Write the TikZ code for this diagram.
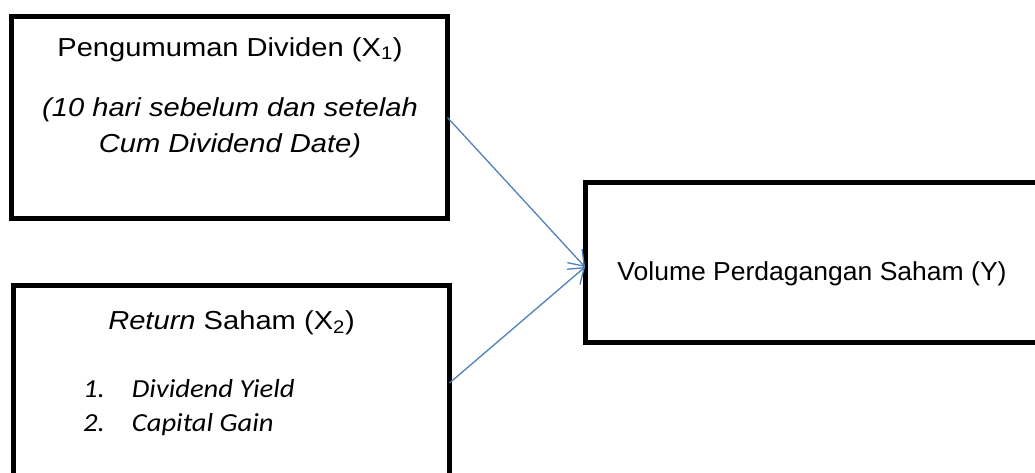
\documentclass[tikz,border=0pt]{standalone}
\usepackage{fontspec}
\setmainfont{Liberation Sans}[FakeStretch=1.12]
\newfontfamily\yfont{Liberation Sans}[FakeStretch=1.02]
\newfontfamily\calfont{Carlito}[FakeStretch=1.10]
\usetikzlibrary{arrows.meta}
\definecolor{arrowblue}{HTML}{4F81BD}
\begin{document}
\begin{tikzpicture}[x=1pt,y=-1pt,
  box/.style={draw=black, line width=5pt, rectangle, inner sep=0pt, outer sep=0pt},
  bigtext/.style={font=\fontsize{26}{31}\selectfont, inner sep=0pt, anchor=base},
  ytext/.style={font=\yfont\fontsize{26}{31}\selectfont, inner sep=0pt, anchor=base},
  itemtext/.style={font=\calfont\itshape\fontsize{26}{31}\selectfont, inner sep=0pt, anchor=base west},
  conn/.style={draw=arrowblue, line width=1.3pt, -{Straight Barb[length=14pt,width=20pt,line width=1.3pt]}}
]
\useasboundingbox (0,0) rectangle (1035,472);
\fill[white] (0,0) rectangle (1035,472);
\clip (0,0) rectangle (1035,472);

% boxes
\node[box, minimum width=436pt, minimum height=202pt] (b1) at (229.5,117.5) {};
\node[box, minimum width=436pt, minimum height=195pt] (b2) at (231.5,383) {};
\node[box, minimum width=470pt, minimum height=160pt] (b3) at (820,262.5) {};

% box 1 text
\node[bigtext] (t1a) at (230,56) {Pengumuman Dividen (X\textsubscript{1})};
\node[bigtext] (t1b) at (230,116) {\itshape (10 hari sebelum dan setelah};
\node[bigtext] (t1c) at (230,152) {\itshape Cum Dividend Date)};

% box 2 text
\node[bigtext] (t2a) at (231.5,329) {\textit{Return} Saham (X\textsubscript{2})};
\node[itemtext] (n1) at (83,397) {1.};
\node[itemtext] (i1) at (131.7,397) {Dividend Yield};
\node[itemtext] (n2) at (83,431) {2.};
\node[itemtext] (i2) at (131.7,431) {Capital Gain};

% box 3 text
\node[ytext] (t3) at (812,280) {Volume Perdagangan Saham (Y)};

% connectors
\draw[conn] (b1.east) -- ([yshift=-4.5pt]b3.west);
\draw[conn] (b2.east) -- ([yshift=-4.5pt]b3.west);
\end{tikzpicture}
\end{document}
